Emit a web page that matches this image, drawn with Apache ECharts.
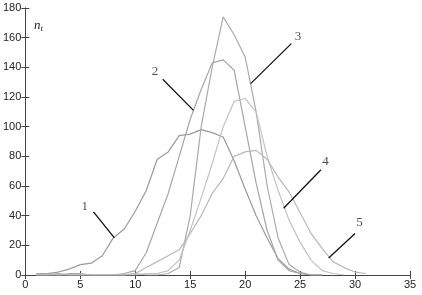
<!DOCTYPE html>
<html><head><meta charset="utf-8">
<script src="https://cdn.jsdelivr.net/npm/echarts@6/dist/echarts.min.js"></script>
<style>html,body{margin:0;padding:0;background:#fff}#c{width:422px;height:295px}</style>
</head><body><div id="c"></div>
<script>
// Data
const x1 = [1,2,3,4,5,6,7,8,9,10,11,12,13,14,15,16,17,18,19,20,21,22,23,24,25,26,27];
const y1 = [0,1,2,4,7,8,13,25,31,43,57,78,83,94,95,98,96,93,77,58,40,25,11,4,1,0,0];
const x2 = [1,2,3,4,5,6,7,8,9,10,11,12,13,14,15,16,17,18,19,20,21,22,23,24,25,26,27];
const y2 = [1,1,0,1,1,0,0,0,1,3,15,35,55,80,105,125,143,145,138,100,62,30,10,3,1,0,0];
const x3 = [1,2,3,4,5,6,7,8,9,10,11,12,13,14,15,16,17,18,19,20,21,22,23,24,25,26,27];
const y3 = [0,0,1,0,0,0,0,0,0,1,0,0,1,5,40,100,140,174,162,147,110,60,25,7,2,0,0];
const x4 = [1,2,3,4,5,6,7,8,9,10,11,12,13,14,15,16,17,18,19,20,21,22,23,24,25,26,27,28,29];
const y4 = [0,0,0,0,0,0,0,0,0,0,1,1,3,10,30,52,75,100,117,119,110,80,57,37,22,10,3,1,0];
const x5 = [1,2,3,4,5,6,7,8,9,10,11,12,13,14,15,16,17,18,19,20,21,22,23,24,25,26,27,28,29,30,31];
const y5 = [0,0,0,0,0,0,0,0,0,1,5,9,13,17,28,40,55,65,80,83,84,78,66,56,42,28,18,9,5,2,1];
// annotations (data coords): label text, label position, leader start, leader end
const annLabels = ['1','2','3','4','5'];
const annText  = [[5.4,46],[11.8,137],[24.8,161],[27.3,76.5],[30.4,35.5]];
const annStart = [[6.2,42.5],[12.5,132],[24.2,156],[26.9,71],[30.0,28]];
const annEnd   = [[8.1,25],[15.3,111],[20.5,129],[23.5,45],[27.6,11.5]];

const xs=[x1,x2,x3,x4,x5], ys=[y1,y2,y3,y4,y5];
const colors=['#9a9a9a','#a6a6a6','#ababab','#c2c2c2','#b8b8b8'];
const chart = echarts.init(document.getElementById('c'));
const series = xs.map((xv,i)=>({
  type:'line', showSymbol:false, symbol:'none', animation:false,
  data: xv.map((x,j)=>[x, ys[i][j]]),
  lineStyle:{color:colors[i], width:1.2},
  z:2
}));
series.push({
  type:'line', data:[], animation:false,
  markLine:{
    silent:true, symbol:['none','none'], animation:false,
    lineStyle:{color:'#111', width:1.3, type:'solid'},
    label:{show:false},
    data: annLabels.map((t,i)=>[{coord:annStart[i]},{coord:annEnd[i]}])
  }
});
series.push({
  type:'scatter', symbolSize:0, animation:false, silent:true,
  data: annLabels.map((t,i)=>({value:annText[i], name:t})),
  label:{show:true, position:'inside', formatter:p=>p.name,
    fontFamily:'Liberation Serif', fontSize:13, color:'#222'}
});
const axisStyle = {lineStyle:{color:'#444', width:1}};
chart.setOption({
  animation:false,
  grid:{left:24, right:12, top:8, bottom:20, containLabel:false},
  xAxis:[{type:'value', min:0, max:35, interval:5, axisLine:{show:true,onZero:false,...axisStyle},
    axisTick:{show:true, inside:true, length:4, lineStyle:{color:'#444'}}, splitLine:{show:false},
    axisLabel:{color:'#222', fontFamily:'Liberation Sans', fontSize:11, margin:4}},
    {type:'value', position:'top', min:0, max:35, interval:5, axisLine:{show:true,...axisStyle},
    axisTick:{show:true, inside:true, length:4, lineStyle:{color:'#444'}}, axisLabel:{show:false}, splitLine:{show:false}}],
  yAxis:[{type:'value', min:0, max:180, interval:20, axisLine:{show:true,onZero:false,...axisStyle},
    axisTick:{show:true, inside:true, length:4, lineStyle:{color:'#444'}}, splitLine:{show:false},
    axisLabel:{color:'#222', fontFamily:'Liberation Sans', fontSize:11, margin:4}},
    {type:'value', position:'right', min:0, max:180, interval:20, axisLine:{show:true,...axisStyle},
    axisTick:{show:true, inside:true, length:4, lineStyle:{color:'#444'}}, axisLabel:{show:false}, splitLine:{show:false}}],
  graphic:[{type:'text', left:34, top:19, style:{
    rich:{n:{fontFamily:'Liberation Serif', fontStyle:'italic', fontSize:13, fill:'#222'},
          s:{fontFamily:'Liberation Serif', fontStyle:'italic', fontSize:9, fill:'#222', padding:[6,0,0,0]}},
    text:'{n|n}{s|t}'}}],
  series
});
</script></body></html>
